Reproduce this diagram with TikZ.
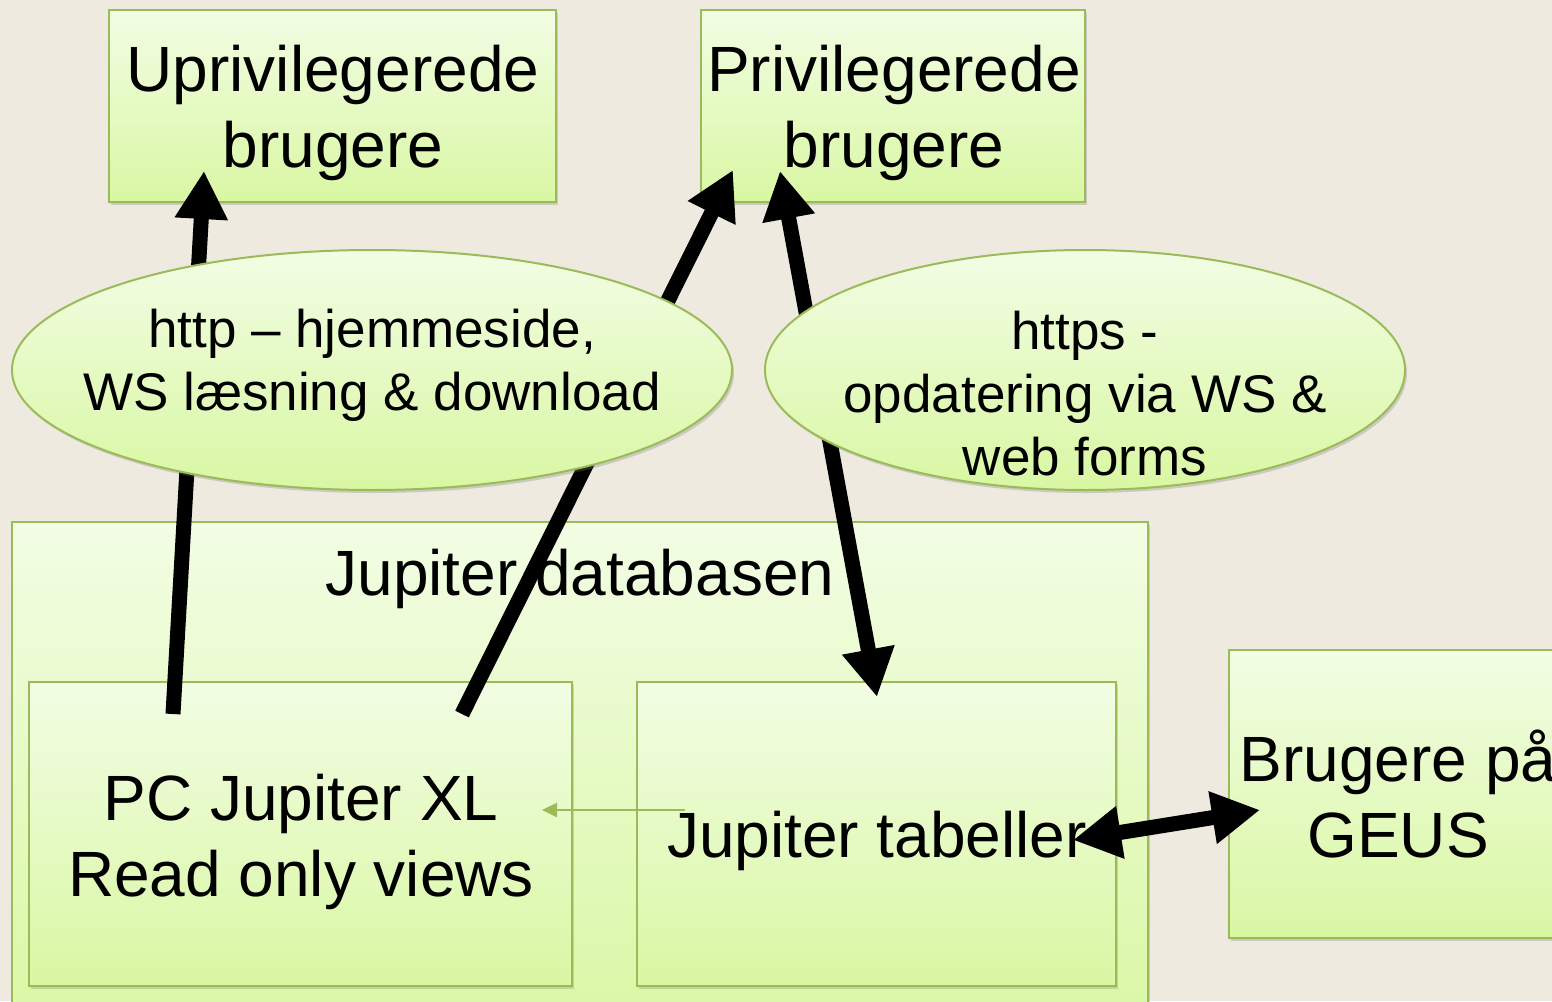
\documentclass[tikz,border=0pt]{standalone}
\usepackage{fontspec}
\setmainfont{Liberation Sans}
\usetikzlibrary{arrows.meta,shapes.geometric,shadows}
\definecolor{bg}{HTML}{EEEAE0}
\definecolor{gborder}{HTML}{9BBB59}
\definecolor{gtop}{HTML}{F2FDE4}
\definecolor{gbot}{HTML}{D9F7A3}
\begin{document}
\begin{tikzpicture}[x=1pt,y=-1pt,
  box/.style={rectangle, draw=gborder, line width=2pt, top color=gtop, bottom color=gbot, inner sep=0pt,
    drop shadow={opacity=0.3, shadow xshift=2pt, shadow yshift=-3pt}},
  oval/.style={ellipse, draw=gborder, line width=2pt, top color=gtop, bottom color=gbot, inner sep=0pt,
    drop shadow={opacity=0.3, shadow xshift=2pt, shadow yshift=-3pt}},
  bigtxt/.style={font=\fontsize{64}{76}\selectfont, align=center, inner sep=0pt},
  smalltxt/.style={font=\fontsize{53}{63}\selectfont, align=center, inner sep=0pt},
  fat/.style={line width=15pt, -{Triangle[length=48pt,width=50pt]}},
  fatboth/.style={line width=15pt, {Triangle[length=48pt,width=50pt]}-{Triangle[length=48pt,width=50pt]}},
  thinarrow/.style={draw=gborder, line width=2.5pt, -{Triangle[length=15pt,width=14pt]}}
]
\fill[bg] (0,0) rectangle (1552,1001);
\useasboundingbox (0,0) rectangle (1552,1001);

% boxes
\node[box, minimum width=1136pt, minimum height=518pt] (db) at (580,781) {};
\node[box, minimum width=543pt, minimum height=304pt] (pc) at (300.5,834) {};
\node[box, minimum width=479pt, minimum height=304pt] (tab) at (876.5,834) {};
\node[box, minimum width=336pt, minimum height=288pt] (geus) at (1397,794) {};
\node[box, minimum width=447pt, minimum height=192pt] (upr) at (332.5,106) {};
\node[box, minimum width=384pt, minimum height=192pt] (priv) at (893,106) {};

% box texts
\node[bigtxt] (uprT) at (333,113) {Uprivilegerede\\brugere};
\node[bigtxt] (privT) at (894,113) {Privilegerede\\brugere};
\node[bigtxt, anchor=base] (dbT) at (580,595) {Jupiter databasen};
\node[bigtxt] (pcT) at (301,842) {PC Jupiter XL\\Read only views};
\node[bigtxt, anchor=base] (tabT) at (877,857) {Jupiter tabeller};
\node[bigtxt] (geusT) at (1398,794) {Brugere på\\GEUS};

% connector end points
\coordinate (a1s) at (173,714);
\coordinate (a1e) at (204,171);
\coordinate (a2s) at (462,714);
\coordinate (a2e) at (733,170);
\coordinate (a3s) at (780,171);
\coordinate (a3e) at (877,697);
\coordinate (a4s) at (1073,840);
\coordinate (a4e) at (1260,810);
\coordinate (g1s) at (685,810);
\coordinate (g1e) at (542,810);

% connectors
\draw[fat] (a1s) -- (a1e);
\draw[fat] (a2s) -- (a2e);
\draw[fatboth] (a3s) -- (a3e);
\draw[fatboth] (a4s) -- (a4e);
\draw[thinarrow] (g1s) -- (g1e);

% ellipses
\node[oval, minimum width=720pt, minimum height=240pt] (e1) at (372,370) {};
\node[oval, minimum width=640pt, minimum height=240pt] (e2) at (1085,370) {};
\node[smalltxt] (e1T) at (372,365) {http – hjemmeside,\\WS læsning \& download};
\node[smalltxt] (e2T) at (1085,394) {https -\\opdatering via WS \&\\web forms};
\end{tikzpicture}
\end{document}
